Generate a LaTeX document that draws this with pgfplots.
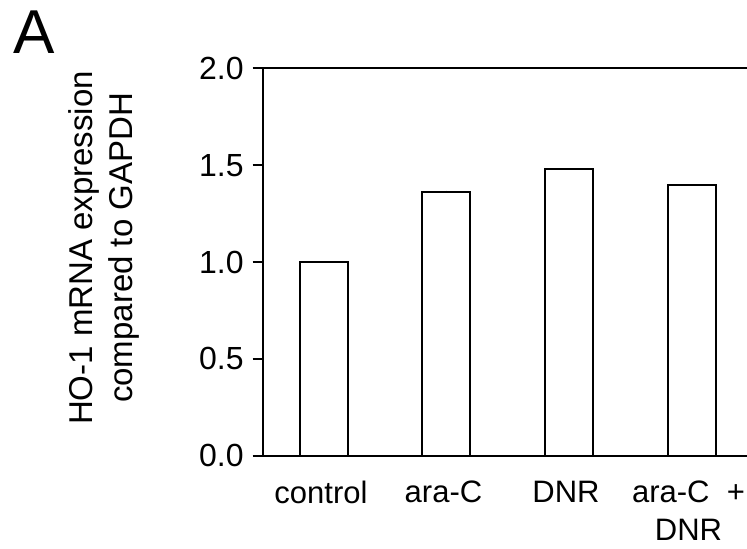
\documentclass[border=0pt]{standalone}
\usepackage{fontspec}
\setmainfont{Liberation Sans}
\usepackage{pgfplots}
\pgfplotsset{compat=1.18}
\begin{document}
\fontsize{16}{19}\selectfont
\begin{tikzpicture}
\useasboundingbox (-131.35pt,-46.15pt) rectangle (242.15pt,227.85pt);
\begin{axis}[
  at={(0,0)}, anchor=south west,
  scale only axis, width=242.15pt, height=193.7pt,
  xmin=-0.5, xmax=3.453, ymin=0, ymax=2,
  axis lines=left,
  axis line style={-, line width=1pt, black},
  clip=false,
  ybar, bar width=24pt,
  xtick={0,1,2,3},
  xticklabels={control, ara-C, DNR, {ara-C~ +\\DNR}},
  xtick style={draw=none},
  minor xtick={-0.5,0.5,1.5,2.5},
  minor tick length=5pt, major tick length=5pt,
  tick align=outside,
  ytick={0,0.5,1,1.5,2},
  ytick style={line width=1pt, black},
  minor tick style={line width=1pt, black},
  yticklabel={\pgfmathprintnumber[fixed,fixed zerofill,precision=1,assume math mode=true]{\tick}},
  yticklabel style={anchor=east, inner sep=0pt, xshift=-4.35pt, font=\fontsize{16}{19}\selectfont},
  xticklabel style={anchor=north, inner sep=0pt, yshift=-7.6pt, xshift=-1.5pt, align=center, font=\fontsize{15.5}{19}\selectfont},
]
\addplot[fill=white, draw=black, line width=1pt,
  error bars/.cd, y dir=plus, y explicit, error mark=none,
  error bar style={line width=1pt, black}]
  coordinates {(0,1.00) +- (0,0) (1,1.36) +- (0,0.008) (2,1.48) +- (0,0) (3,1.395) +- (0,0)};
\draw[line width=1pt, black] (rel axis cs:0,1) -- (rel axis cs:1,1);
\end{axis}
\node[rotate=90, align=center, anchor=center, font=\fontsize{16.5}{20.3}\selectfont] at (-79.35pt,103.85pt) {HO-1 mRNA expression\\compared to GAPDH};
\node[anchor=north west, inner sep=0pt, font=\fontsize{31}{36}\selectfont] at (-124.85pt,222.85pt) {A};
\end{tikzpicture}
\end{document}
